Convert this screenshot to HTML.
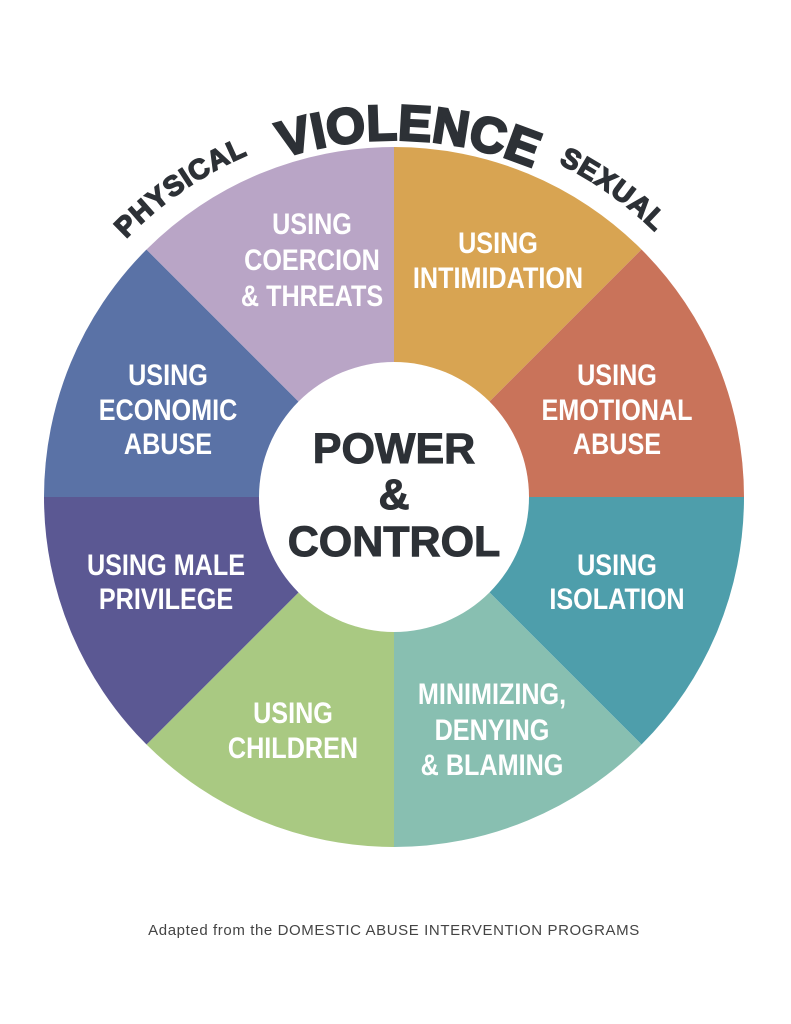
<!DOCTYPE html>
<html><head><meta charset="utf-8"><style>
html,body{margin:0;padding:0;background:#fff;}
svg{display:block}
.l{font-family:"Liberation Sans",sans-serif;font-weight:bold;font-size:30px;fill:#fff;text-anchor:middle}
.c{font-family:"Liberation Sans",sans-serif;font-weight:900;font-size:43px;fill:#2d3136;text-anchor:middle;stroke:#2d3136;stroke-width:1}
.a{font-family:"Liberation Sans",sans-serif;font-weight:900;fill:#2d3136;stroke:#2d3136}
</style></head><body>
<svg width="791" height="1024" viewBox="0 0 791 1024" xmlns="http://www.w3.org/2000/svg">
<defs>
<path id="p1" d="M 22 497 A 372 372 0 0 1 766 497"/>
<path id="p2" d="M 37 497 A 357 357 0 0 1 751 497"/>
</defs>
<g>
<path d="M394 497 L394 147 A350 350 0 0 1 641.5 249.5 Z" fill="#d8a452"/>
<path d="M394 497 L641.5 249.5 A350 350 0 0 1 744 497 Z" fill="#c9735a"/>
<path d="M394 497 L744 497 A350 350 0 0 1 641.5 744.5 Z" fill="#4e9eab"/>
<path d="M394 497 L641.5 744.5 A350 350 0 0 1 394 847 Z" fill="#88bfb1"/>
<path d="M394 497 L394 847 A350 350 0 0 1 146.5 744.5 Z" fill="#a9c982"/>
<path d="M394 497 L146.5 744.5 A350 350 0 0 1 44 497 Z" fill="#5b5893"/>
<path d="M394 497 L44 497 A350 350 0 0 1 146.5 249.5 Z" fill="#5a72a6"/>
<path d="M394 497 L146.5 249.5 A350 350 0 0 1 394 147 Z" fill="#b9a5c6"/>
<circle cx="394" cy="497" r="135" fill="#fff"/>
</g>
<text class="a" font-size="28" stroke-width="1.5" text-anchor="middle" letter-spacing="1"><textPath href="#p1" startOffset="30.8%">PHYSICAL</textPath></text>
<text class="a" font-size="28" stroke-width="1.5" text-anchor="middle" letter-spacing="1"><textPath href="#p1" startOffset="69.7%">SEXUAL</textPath></text>
<text class="a" font-size="50" stroke-width="2.5" text-anchor="middle"><textPath href="#p2" startOffset="51.3%">VIOLENCE</textPath></text>

<g class="l">
<g transform="translate(312 0) scale(0.84 1)"><text x="0" y="234">USING</text><text x="0" y="270">COERCION</text><text x="0" y="306">&amp; THREATS</text></g>
<g transform="translate(498 0) scale(0.84 1)"><text x="0" y="253">USING</text><text x="0" y="288">INTIMIDATION</text></g>
<g transform="translate(617 0) scale(0.84 1)"><text x="0" y="385">USING</text><text x="0" y="420">EMOTIONAL</text><text x="0" y="454">ABUSE</text></g>
<g transform="translate(617 0) scale(0.84 1)"><text x="0" y="575">USING</text><text x="0" y="609">ISOLATION</text></g>
<g transform="translate(492 0) scale(0.84 1)"><text x="0" y="704">MINIMIZING,</text><text x="0" y="740">DENYING</text><text x="0" y="775">&amp; BLAMING</text></g>
<g transform="translate(293 0) scale(0.84 1)"><text x="0" y="723">USING</text><text x="0" y="758">CHILDREN</text></g>
<g transform="translate(166 0) scale(0.84 1)"><text x="0" y="575">USING MALE</text><text x="0" y="609">PRIVILEGE</text></g>
<g transform="translate(168 0) scale(0.84 1)"><text x="0" y="385">USING</text><text x="0" y="420">ECONOMIC</text><text x="0" y="454">ABUSE</text></g>
</g>

<text class="c" x="394" y="463">POWER</text>
<text class="c" x="394" y="509">&amp;</text>
<text class="c" x="394" y="556">CONTROL</text>

<text x="394" y="935" text-anchor="middle" font-family="Liberation Sans,sans-serif" font-size="15" letter-spacing="0.6" fill="#444">Adapted from the DOMESTIC ABUSE INTERVENTION PROGRAMS</text>
</svg>
</body></html>
